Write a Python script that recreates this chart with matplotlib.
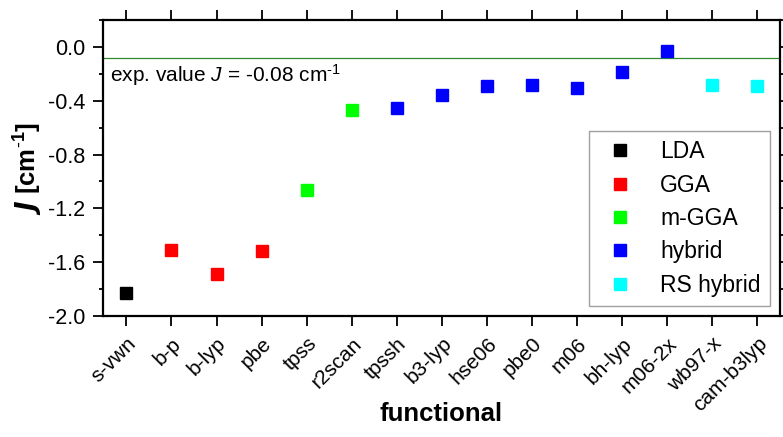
import matplotlib

matplotlib.use("Agg")
import matplotlib.pyplot as plt
import matplotlib.transforms as mtransforms
from matplotlib.ticker import MultipleLocator
import numpy as np

plt.rcParams["font.family"] = ["Liberation Sans", "DejaVu Sans"]
plt.rcParams["mathtext.fontset"] = "custom"
plt.rcParams["mathtext.it"] = "Liberation Sans:italic"
plt.rcParams["mathtext.bf"] = "Liberation Sans:bold"
plt.rcParams["mathtext.rm"] = "Liberation Sans"

FUNCTIONALS = ["s-vwn", "b-p", "b-lyp", "pbe", "tpss", "r2scan", "tpssh", "b3-lyp",
               "hse06", "pbe0", "m06", "bh-lyp", "m06-2x", "wb97-x", "cam-b3lyp"]
J_VALUES = [-1.83, -1.51, -1.69, -1.52, -1.065, -0.465, -0.455, -0.355,
            -0.29, -0.28, -0.305, -0.185, -0.03, -0.28, -0.29]
GROUP_OF = ["LDA", "GGA", "GGA", "GGA", "m-GGA", "m-GGA", "hybrid", "hybrid",
            "hybrid", "hybrid", "hybrid", "hybrid", "hybrid", "RS hybrid", "RS hybrid"]
GROUPS = ["LDA", "GGA", "m-GGA", "hybrid", "RS hybrid"]
GROUP_COLORS = {
    "LDA": "#000000",
    "GGA": "#ff0000",
    "m-GGA": "#00ff00",
    "hybrid": "#0000ff",
    "RS hybrid": "#00ffff",
}
EXP_VALUE = -0.08

fig = plt.figure(figsize=(7.83, 4.37), dpi=100)
ax = fig.add_axes([0.1315, 0.277, 0.8645, 0.677])

x = np.arange(len(FUNCTIONALS))
vals = np.array(J_VALUES)
groups = np.array(GROUP_OF)
for g in GROUPS:
    mask = groups == g
    ax.plot(x[mask], vals[mask], linestyle="none", marker="s", markersize=9,
            color=GROUP_COLORS[g], label=g)

ax.axhline(EXP_VALUE, color="#2e8b2e", linewidth=0.9, zorder=1)
ax.text(0.011, 0.814, r"exp. value $J$ = -0.08 cm$^{\mathrm{\text{-}1}}$", transform=ax.transAxes,
        fontsize=15, ha="left", va="center")

ax.set_xlim(-0.52, 14.5)
ax.set_ylim(-2.0, 0.2)
ax.set_xticks(x)
ax.set_xticklabels(FUNCTIONALS, rotation=45, ha="right", rotation_mode="anchor", fontsize=15)
shift = mtransforms.ScaledTranslation(0.07, 0, fig.dpi_scale_trans)
for lbl in ax.get_xticklabels():
    lbl.set_transform(lbl.get_transform() + shift)
ax.yaxis.set_major_locator(MultipleLocator(0.4))
ax.yaxis.set_minor_locator(MultipleLocator(0.2))
ax.set_yticks([0.0, -0.4, -0.8, -1.2, -1.6, -2.0])
ax.set_yticklabels(["0.0", "-0.4", "-0.8", "-1.2", "-1.6", "-2.0"], fontsize=15.5)
ax.tick_params(axis="both", which="both", direction="out", top=True, right=True,
               width=1.3, color="black")
ax.tick_params(axis="both", which="major", length=7)
ax.tick_params(axis="y", which="minor", length=3)
ax.tick_params(axis="x", which="major", pad=6)
ax.tick_params(axis="y", which="major", pad=6)
for s in ax.spines.values():
    s.set_linewidth(1.6)

ax.set_xlabel("functional", fontsize=18.5, fontweight="bold")
ax.xaxis.set_label_coords(0.5, -0.292)
ax.set_ylabel(r"$\mathbfit{J}$ [cm$^{\mathbf{\text{-}1}}$]", fontsize=18.5, fontweight="bold", labelpad=2)

leg = ax.legend(loc="lower right", bbox_to_anchor=(0.985, 0.034), fontsize=16.5, frameon=True,
                fancybox=False, edgecolor="#888888", handlelength=1.9, handletextpad=0.8,
                borderpad=0.4, labelspacing=0.45, borderaxespad=0)
leg.get_frame().set_linewidth(1.0)

fig.savefig("out.png", dpi=100)
